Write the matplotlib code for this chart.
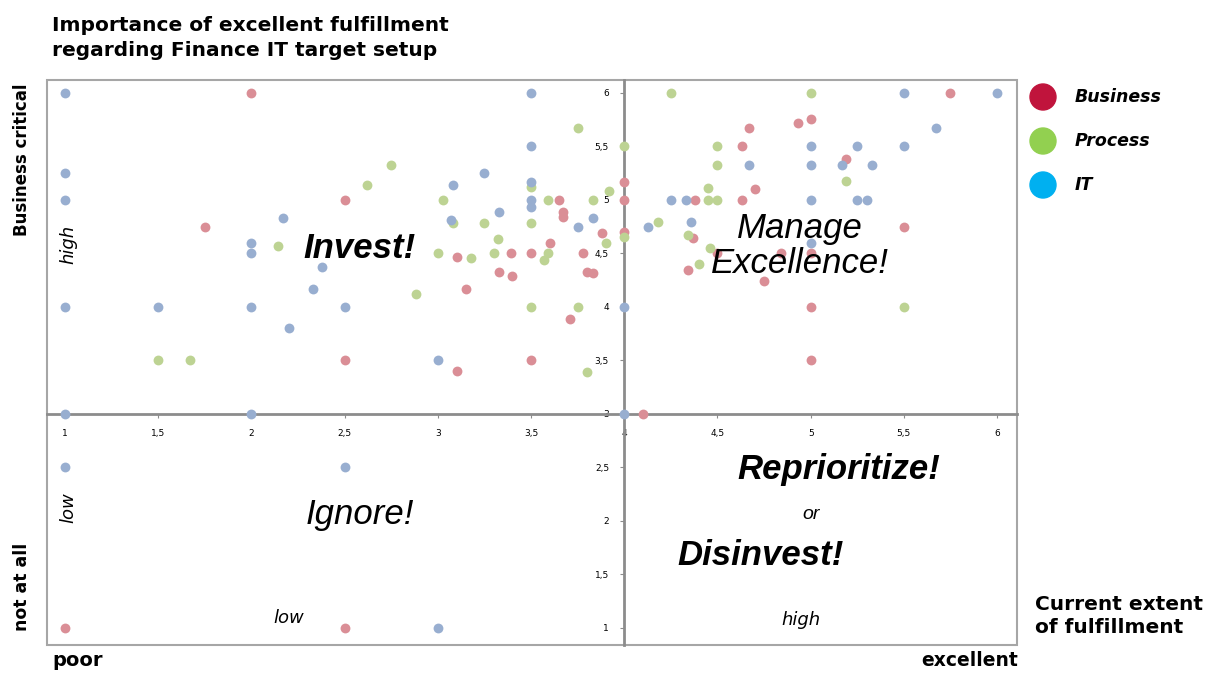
import matplotlib.pyplot as plt
from matplotlib.patches import Rectangle, Ellipse

# Current extent of fulfillment (x) vs importance (y)
business_x = [2.0, 1.75, 2.5, 2.5, 1.0, 2.5, 3.15, 3.33, 3.4, 3.8, 3.83, 3.71, 3.1, 3.5,
              3.39, 3.5, 3.1, 3.6, 3.65, 3.67, 3.67, 3.78, 3.88, 4.0, 4.0, 4.0,
              5.75, 5.0, 4.93, 4.67, 4.63, 5.19, 4.7, 4.38, 4.63, 5.5, 4.37, 4.5,
              4.84, 5.0, 4.34, 4.75, 5.0, 5.0, 4.1]
business_y = [6.0, 4.75, 5.0, 3.5, 1.0, 1.0, 4.17, 4.33, 4.29, 4.33, 4.32, 3.89, 3.4, 3.5,
              4.5, 4.5, 4.47, 4.6, 5.0, 4.89, 4.84, 4.5, 4.69, 5.17, 5.0, 4.7,
              6.0, 5.76, 5.72, 5.67, 5.5, 5.38, 5.1, 5.0, 5.0, 4.75, 4.64, 4.5,
              4.5, 4.5, 4.34, 4.24, 4.0, 3.5, 3.0]

process_x = [1.5, 1.67, 2.14, 2.75, 2.62, 3.03, 3.08, 3.25, 3.32, 3.0, 3.18, 3.3, 3.5, 3.5,
             3.59, 3.59, 3.57, 3.75, 3.83, 3.92, 3.9, 4.0, 4.0, 2.88, 3.5, 3.75, 3.8,
             4.25, 5.0, 4.5, 4.5, 5.19, 4.45, 4.45, 4.5, 4.18, 4.34, 4.46, 4.4, 5.5]
process_y = [3.5, 3.5, 4.57, 5.33, 5.14, 5.0, 4.78, 4.78, 4.63, 4.5, 4.46, 4.5, 4.78, 5.12,
             5.0, 4.5, 4.44, 5.67, 5.0, 5.08, 4.6, 5.5, 4.65, 4.12, 4.0, 4.0, 3.39,
             6.0, 6.0, 5.5, 5.33, 5.18, 5.11, 5.0, 5.0, 4.79, 4.67, 4.55, 4.4, 4.0]

it_x = [1.0, 1.0, 1.0, 1.0, 1.0, 1.0, 1.5, 2.0, 2.0, 2.0, 2.0, 2.17, 2.33, 2.38, 2.2,
        2.5, 2.5, 3.0, 3.0, 4.0, 4.0, 3.5, 3.5, 3.5, 3.5, 3.5, 3.08, 3.25, 3.07, 3.33,
        3.75, 3.83, 5.5, 6.0, 5.67, 5.0, 5.25, 5.5, 4.67, 5.0, 5.17, 5.33, 4.25, 4.33,
        5.0, 5.25, 5.3, 4.13, 4.36, 5.0]
it_y = [6.0, 5.25, 5.0, 4.0, 3.0, 2.5, 4.0, 3.0, 4.0, 4.6, 4.5, 4.83, 4.17, 4.37, 3.8,
        4.0, 2.5, 1.0, 3.5, 4.0, 3.0, 6.0, 5.5, 5.17, 5.0, 4.93, 5.14, 5.25, 4.81, 4.89,
        4.75, 4.83, 6.0, 6.0, 5.67, 5.5, 5.5, 5.5, 5.33, 5.33, 5.33, 5.33, 5.0, 5.0,
        5.0, 5.0, 5.0, 4.75, 4.79, 4.6]

tick_values = [1, 1.5, 2, 2.5, 3, 3.5, 4, 4.5, 5, 5.5, 6]
tick_labels = ['1', '1,5', '2', '2,5', '3', '3,5', '4', '4,5', '5', '5,5', '6']

legend_names = ['Business', 'Process', 'IT']
legend_colors = ['#c0143c', '#92d050', '#00b0f0']
dot_colors = ['#da8e96', '#bdd393', '#98aed0']

fig = plt.figure(figsize=(12.12, 6.73), dpi=100)
ax = fig.add_axes([47 / 1212, 1 - 645 / 673, 970 / 1212, 565 / 673])
ax.set_xlim(0.903, 6.107)
ax.set_ylim(0.84, 6.12)

ax.scatter(business_x, business_y, s=50, color=dot_colors[0], zorder=3, linewidths=0)
ax.scatter(process_x, process_y, s=50, color=dot_colors[1], zorder=3, linewidths=0)
ax.scatter(it_x, it_y, s=50, color=dot_colors[2], zorder=3, linewidths=0)

# axes cross at (4, 3)
ax.spines['left'].set_position(('data', 4))
ax.spines['bottom'].set_position(('data', 3))
for s in ['left', 'bottom']:
    ax.spines[s].set_color('#8c8c8c')
    ax.spines[s].set_linewidth(2)
    ax.spines[s].set_zorder(2)
ax.spines['top'].set_visible(False)
ax.spines['right'].set_visible(False)
ax.add_patch(Rectangle((0, 0), 1, 1, transform=ax.transAxes, fill=False,
                       edgecolor='#a6a6a6', linewidth=1.5, clip_on=False))

ax.set_xticks(tick_values)
ax.set_xticklabels(tick_labels)
ax.set_yticks(tick_values)
ax.set_yticklabels(tick_labels)
ax.tick_params(axis='both', labelsize=6.5, length=3, color='#8c8c8c', pad=8)

# quadrant texts
nar = ['Liberation Sans Narrow', 'Liberation Sans', 'DejaVu Sans']
ax.text(2.58, 4.55, 'Invest!', fontsize=25, fontweight='bold', style='italic',
        family=nar, ha='center', va='center')
ax.text(4.94, 4.57, 'Manage\nExcellence!', fontsize=25, style='italic',
        family=nar, ha='center', va='center', linespacing=1.05)
ax.text(2.58, 2.06, 'Ignore!', fontsize=25, style='italic',
        family=nar, ha='center', va='center')
ax.text(5.15, 2.48, 'Reprioritize!', fontsize=25, fontweight='bold', style='italic',
        family=nar, ha='center', va='center')
ax.text(5.0, 2.06, 'or', fontsize=14, style='italic', family=nar, ha='center', va='center')
ax.text(4.73, 1.68, 'Disinvest!', fontsize=25, fontweight='bold', style='italic',
        family=nar, ha='center', va='center')

lab = ['DejaVu Sans']
ax.text(1.02, 4.58, 'high', fontsize=13, style='italic', family=lab, rotation=90,
        ha='center', va='center')
ax.text(1.02, 2.12, 'low', fontsize=13, style='italic', family=lab, rotation=90,
        ha='center', va='center')
ax.text(2.2, 1.09, 'low', fontsize=13, style='italic', family=lab, ha='center', va='center')
ax.text(4.95, 1.07, 'high', fontsize=13, style='italic', family=lab, ha='center', va='center')

# outer labels
fig.text(52 / 1212, 1 - 38 / 673, 'Importance of excellent fulfillment\nregarding Finance IT target setup',
         fontsize=14.5, fontweight='bold', family=lab, ha='left', va='center', linespacing=1.35)
fig.text(22 / 1212, 1 - 160 / 673, 'Business critical', fontsize=12, fontweight='bold',
         family=lab, rotation=90, ha='center', va='center')
fig.text(22 / 1212, 1 - 587 / 673, 'not at all', fontsize=12.5, fontweight='bold',
         family=lab, rotation=90, ha='center', va='center')
fig.text(52 / 1212, 1 - 661 / 673, 'poor', fontsize=14, fontweight='bold',
         family=lab, ha='left', va='center')
fig.text(1018 / 1212, 1 - 661 / 673, 'excellent', fontsize=13.5, fontweight='bold',
         family=lab, ha='right', va='center')
fig.text(1035 / 1212, 1 - 616 / 673, 'Current extent\nof fulfillment', fontsize=14.5,
         fontweight='bold', family=lab, ha='left', va='center', linespacing=1.3)

# legend
for i, (name, col) in enumerate(zip(legend_names, legend_colors)):
    yy = 1 - (97 + 44 * i) / 673
    fig.add_artist(Ellipse((1043 / 1212, yy), 26 / 1212, 26 / 673, color=col,
                           transform=fig.transFigure))
    fig.text(1075 / 1212, yy, name, fontsize=12.5, fontweight='bold', style='italic',
             family=lab, ha='left', va='center')

fig.savefig('out.png', dpi=100)
